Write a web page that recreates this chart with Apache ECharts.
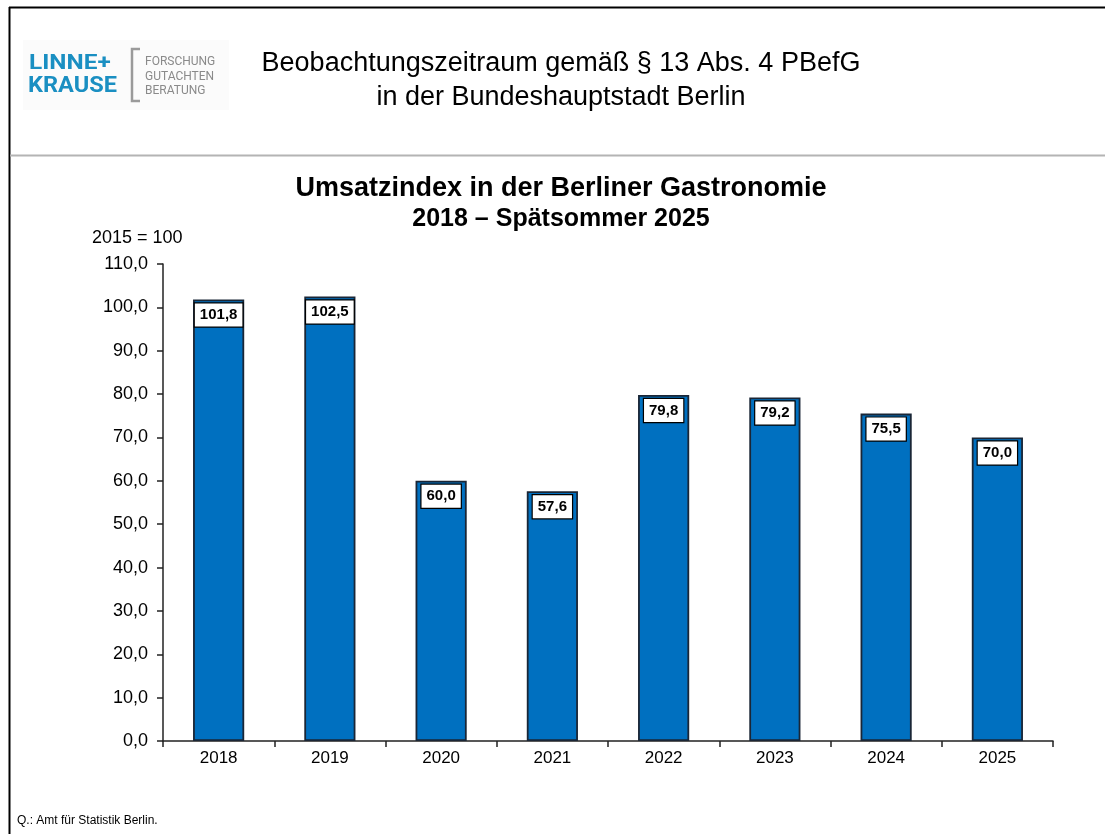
<!DOCTYPE html>
<html>
<head>
<meta charset="utf-8">
<title>Umsatzindex Berliner Gastronomie</title>
<script src="https://cdn.jsdelivr.net/npm/echarts@6/dist/echarts.min.js"></script>
<style>
html, body { margin: 0; padding: 0; background: #fff; }
#chart { width: 1105px; height: 834px; }
</style>
</head>
<body>
<div id="chart"></div>
<script type="text/javascript">
    // Daten
    var years = ['2018', '2019', '2020', '2021', '2022', '2023', '2024', '2025'];
    var umsatzindex = [101.8, 102.5, 60.0, 57.6, 79.8, 79.2, 75.5, 70.0];
    var yMin = 0, yMax = 110, yStep = 10;

    function komma(v) { //Dezimalkomma
        return Number(v).toFixed(1).replace('.', ',');
    }

    var font = 'Liberation Sans, Arial, sans-serif';

    var option = {
        backgroundColor: '#fff',
        animation: false,
        textStyle: { fontFamily: font },
        grid: { left: 163, right: 52, top: 264, bottom: 93 },
        xAxis: {
            type: 'category',
            data: years,
            axisLine: { lineStyle: { color: '#222', width: 1.5 } },
            axisTick: { show: true, length: 6, lineStyle: { color: '#222', width: 1.5 } },
            axisLabel: { fontSize: 17, color: '#000', margin: 9, fontFamily: font }
        },
        yAxis: {
            type: 'value',
            min: yMin,
            max: yMax,
            interval: yStep,
            axisLine: { show: true, lineStyle: { color: '#222', width: 1.5 } },
            axisTick: { show: true, length: 6, lineStyle: { color: '#222', width: 1.5 } },
            splitLine: { show: false },
            axisLabel: { fontSize: 18, color: '#000', margin: 15, fontFamily: font, formatter: komma }
        },
        series: [{
            type: 'bar',
            data: umsatzindex,
            barWidth: '46%',
            itemStyle: { color: '#0070C0', borderColor: '#1a2636', borderWidth: 1.8 },
            label: {
                show: true,
                position: 'insideTop',
                distance: 4,
                formatter: function (p) { return komma(p.value); },
                fontSize: 15,
                fontWeight: 'bold',
                color: '#000',
                fontFamily: font,
                backgroundColor: '#fff',
                borderColor: '#000',
                borderWidth: 1.2,
                padding: [4, 5, 4, 5]
            }
        }],
        graphic: [
            // Rahmen
            { type: 'line', shape: { x1: 9.5, y1: 7, x2: 9.5, y2: 834 }, style: { stroke: '#000', lineWidth: 2 } },
            { type: 'line', shape: { x1: 9, y1: 7.5, x2: 1105, y2: 7.5 }, style: { stroke: '#000', lineWidth: 2 } },
            { type: 'line', shape: { x1: 10, y1: 155.5, x2: 1105, y2: 155.5 }, style: { stroke: '#b4b4b4', lineWidth: 2 } },
            // Logo
            { type: 'rect', shape: { x: 23, y: 40, width: 206, height: 70 }, style: { fill: '#fbfbfb' } },
            { type: 'text', x: 29, y: 64, scaleX: 1.16, style: { text: 'LINNE+', font: 'bold 21px Roboto, sans-serif', fill: '#1a8fc2', textVerticalAlign: 'middle' } },
            { type: 'text', x: 28, y: 86, scaleX: 1.07, style: { text: 'KRAUSE', font: 'bold 22px Roboto, sans-serif', fill: '#1a8fc2', textVerticalAlign: 'middle' } },
            { type: 'polyline', shape: { points: [[140, 49], [132, 49], [132, 101], [140, 101]] }, style: { stroke: '#9a9a9a', lineWidth: 2.5, fill: null } },
            { type: 'text', x: 145, y: 62, style: { text: 'FORSCHUNG', font: '12px Roboto, sans-serif', fill: '#8a8a8a', textVerticalAlign: 'middle' } },
            { type: 'text', x: 145, y: 76.5, style: { text: 'GUTACHTEN', font: '12px Roboto, sans-serif', fill: '#8a8a8a', textVerticalAlign: 'middle' } },
            { type: 'text', x: 145, y: 91, style: { text: 'BERATUNG', font: '12px Roboto, sans-serif', fill: '#8a8a8a', textVerticalAlign: 'middle' } },
            // Kopfzeile
            { type: 'text', x: 561, y: 64, style: { text: 'Beobachtungszeitraum gemäß § 13 Abs. 4 PBefG', font: '27px ' + font, fill: '#000', textAlign: 'center', textVerticalAlign: 'middle' } },
            { type: 'text', x: 561, y: 98, style: { text: 'in der Bundeshauptstadt Berlin', font: '27px ' + font, fill: '#000', textAlign: 'center', textVerticalAlign: 'middle' } },
            // Titel
            { type: 'text', x: 561, y: 189, style: { text: 'Umsatzindex in der Berliner Gastronomie', font: 'bold 27px ' + font, fill: '#000', textAlign: 'center', textVerticalAlign: 'middle' } },
            { type: 'text', x: 561, y: 219, style: { text: '2018 – Spätsommer 2025', font: 'bold 25px ' + font, fill: '#000', textAlign: 'center', textVerticalAlign: 'middle' } },
            { type: 'text', x: 92, y: 238, style: { text: '2015 = 100', font: '18px ' + font, fill: '#000', textVerticalAlign: 'middle' } },
            // Quelle
            { type: 'text', x: 17, y: 821, style: { text: 'Q.: Amt für Statistik Berlin.', font: '12px ' + font, fill: '#000', textVerticalAlign: 'middle' } }
        ]
    };

    var chart = echarts.init(document.getElementById('chart'));
    chart.setOption(option);
</script>
</body>
</html>
